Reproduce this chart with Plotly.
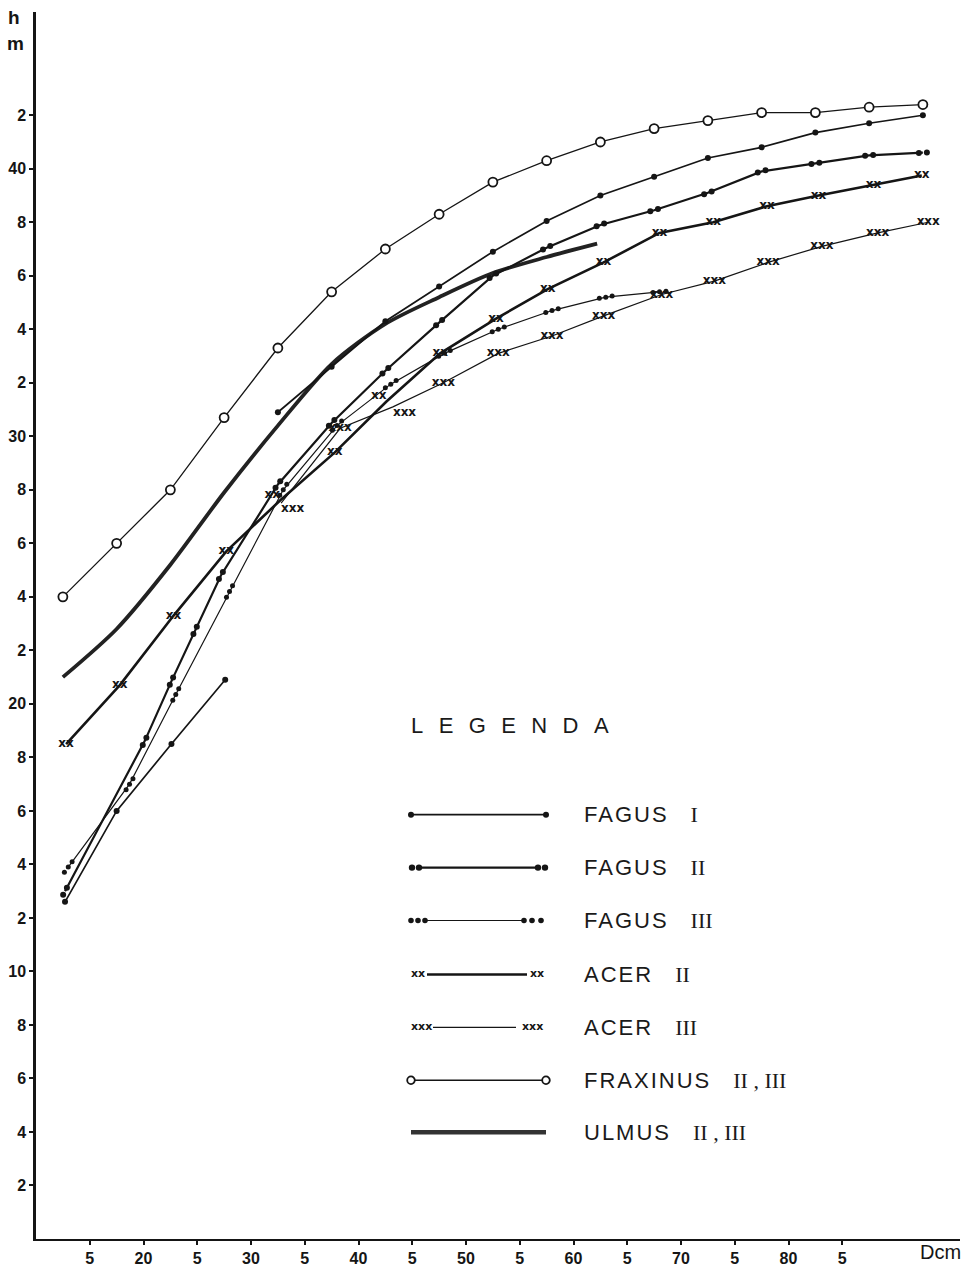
import math
import plotly.graph_objects as go

# ---------------- data ----------------
fraxinus_d = [12.5, 17.5, 22.5, 27.5, 32.5, 37.5, 42.5, 47.5, 52.5, 57.5, 62.5, 67.5, 72.5, 77.5, 82.5, 87.5, 92.5]
fraxinus_h = [24.0, 26.0, 28.0, 30.7, 33.3, 35.4, 37.0, 38.3, 39.5, 40.3, 41.0, 41.5, 41.8, 42.1, 42.1, 42.3, 42.4]

fagus1_d = [32.5, 37.5, 42.5, 47.5, 52.5, 57.5, 62.5, 67.5, 72.5, 77.5, 82.5, 87.5, 92.5]
fagus1_h = [30.9, 32.6, 34.3, 35.6, 36.9, 38.05, 39.0, 39.7, 40.4, 40.8, 41.35, 41.7, 42.0]
fagus1_low_d = [12.7, 17.5, 22.6, 27.6]
fagus1_low_h = [12.6, 16.0, 18.5, 20.9]

fagus2_d = [12.7, 20.1, 22.6, 24.8, 27.2, 32.5, 37.5, 42.5, 47.5, 52.5, 57.5, 62.5, 67.5, 72.5, 77.5, 82.5, 87.5, 92.5]
fagus2_h = [13.0, 18.6, 20.85, 22.75, 24.8, 28.2, 30.5, 32.45, 34.25, 36.0, 37.05, 37.9, 38.45, 39.1, 39.9, 40.2, 40.5, 40.6]

fagus3_d = [13.0, 18.7, 23.0, 28.0, 33.0, 38.0, 43.0, 48.0, 53.0, 58.0, 63.0, 68.0]
fagus3_h = [13.9, 17.0, 20.35, 24.2, 28.0, 30.4, 31.95, 33.1, 34.0, 34.7, 35.2, 35.4]

acer2_d = [12.8, 17.8, 22.8, 27.7, 32.7, 37.8, 42.6, 47.6, 52.8, 57.6, 62.8, 68.0, 73.0, 78.0, 82.8, 87.9, 92.4]
acer2_h = [18.5, 20.7, 23.3, 25.7, 27.6, 29.4, 31.3, 33.1, 34.4, 35.5, 36.5, 37.6, 38.0, 38.6, 39.0, 39.4, 39.75]

acer3_d = [32.8, 38.3, 43.2, 47.9, 53.0, 58.0, 62.8, 68.2, 73.1, 78.1, 83.1, 88.3, 93.0]
acer3_h = [27.5, 30.3, 31.1, 32.0, 33.1, 33.75, 34.5, 35.3, 35.8, 36.5, 37.1, 37.6, 38.0]

ulmus_d = [12.5, 17.5, 22.5, 27.5, 32.5, 37.5, 42.5, 47.5, 52.5, 57.5, 62.2]
ulmus_h = [21.0, 22.8, 25.2, 27.9, 30.4, 32.7, 34.2, 35.2, 36.1, 36.7, 37.2]

y_tickvals = list(range(2, 43, 2))
y_ticktext = ["2", "4", "6", "8", "10", "2", "4", "6", "8", "20", "2", "4", "6", "8",
              "30", "2", "4", "6", "8", "40", "2"]
x_tickvals = list(range(15, 86, 5))
x_ticktext = ["5", "20", "5", "30", "5", "40", "5", "50", "5", "60", "5", "70", "5", "80", "5"]

legend_title = "LEGENDA"
legend_labels = ["FAGUS", "FAGUS", "FAGUS", "ACER", "ACER", "FRAXINUS", "ULMUS"]
legend_roman = ["I", "II", "III", "II", "III", "II , III", "II , III"]

# ---------------- geometry ----------------
W, H = 965, 1272
ML, MR, MT, MB = 36, 5, 12, 31
PW, PH = W - ML - MR, H - MT - MB
X0, X1 = 10.0, 10.0 + PW / 10.75
Y0, Y1 = 0.0, PH / 26.8
SX = PW / (X1 - X0)
SY = PH / (Y1 - Y0)

INK = "#151515"
FONT = "Liberation Sans"


def multi_dots(d, h, k, gap):
    """k dots per data point, spaced `gap` px along the local line direction."""
    xs, ys = [], []
    n = len(d)
    for i in range(n):
        i0, i1 = max(i - 1, 0), min(i + 1, n - 1)
        dx = (d[i1] - d[i0]) * SX
        dy = (h[i1] - h[i0]) * SY
        L = math.hypot(dx, dy) or 1.0
        ux, uy = dx / L, dy / L
        for j in range(k):
            t = (j - (k - 1) / 2) * gap
            xs.append(d[i] + t * ux / SX)
            ys.append(h[i] + t * uy / SY)
    return xs, ys


def crowded_positions(d, h, od, oh, where, min_px=14):
    """Nudge a mark label off a neighbouring series' mark when the two coincide."""
    pos = []
    for x, y in zip(d, h):
        near = any(math.hypot((x - a) * SX, (y - b) * SY) < min_px for a, b in zip(od, oh))
        pos.append(where if near else "middle center")
    return pos


fig = go.Figure()

# Ulmus (thick, smooth, no markers)
fig.add_trace(go.Scatter(x=ulmus_d, y=ulmus_h, mode="lines",
                         line=dict(color="#222", width=3.8, shape="spline", smoothing=0.8),
                         hoverinfo="skip"))

# Fraxinus (thin line, open circles)
fig.add_trace(go.Scatter(x=fraxinus_d, y=fraxinus_h, mode="lines+markers",
                         line=dict(color=INK, width=1.3),
                         marker=dict(symbol="circle", size=9, color="white",
                                     line=dict(color=INK, width=1.8))))

# Fagus I (single dots)
for dd, hh in ((fagus1_d, fagus1_h), (fagus1_low_d, fagus1_low_h)):
    fig.add_trace(go.Scatter(x=dd, y=hh, mode="lines+markers",
                             line=dict(color=INK, width=1.7),
                             marker=dict(symbol="circle", size=6, color=INK)))

# Fagus II (double dots, heavier line)
fig.add_trace(go.Scatter(x=fagus2_d, y=fagus2_h, mode="lines",
                         line=dict(color=INK, width=2.2)))
mx, my = multi_dots(fagus2_d, fagus2_h, 2, 8)
fig.add_trace(go.Scatter(x=mx, y=my, mode="markers",
                         marker=dict(symbol="circle", size=6, color=INK)))

# Fagus III (triple dots, thin line)
fig.add_trace(go.Scatter(x=fagus3_d, y=fagus3_h, mode="lines",
                         line=dict(color=INK, width=1.2)))
mx, my = multi_dots(fagus3_d, fagus3_h, 3, 6.5)
fig.add_trace(go.Scatter(x=mx, y=my, mode="markers",
                         marker=dict(symbol="circle", size=5, color=INK)))

XFONT = dict(family="DejaVu Sans", size=12, color=INK, weight="bold")

# Acer II (thick line, "xx")
fig.add_trace(go.Scatter(x=acer2_d, y=acer2_h, mode="lines+text",
                         text=["xx"] * len(acer2_d),
                         textposition=crowded_positions(acer2_d, acer2_h, acer3_d, acer3_h, "top left"),
                         textfont=XFONT, line=dict(color=INK, width=2.6)))

# Acer III (thin line, "xxx")
fig.add_trace(go.Scatter(x=acer3_d, y=acer3_h, mode="lines+text",
                         text=["xxx"] * len(acer3_d),
                         textposition=crowded_positions(acer3_d, acer3_h, acer2_d, acer2_h, "bottom right"),
                         textfont=XFONT, line=dict(color=INK, width=1.2)))


# ---------------- custom legend (paper coordinates) ----------------
def XP(px):
    return (px - ML) / PW


def YP(py):
    return (H - MB - py) / PH


shapes = []
annos = []


def hline(x0, x1, y, w, color=INK):
    shapes.append(dict(type="line", xref="paper", yref="paper",
                       x0=XP(x0), x1=XP(x1), y0=YP(y), y1=YP(y),
                       line=dict(color=color, width=w)))


def dot(cx, cy, r, fill=INK, lw=0):
    shapes.append(dict(type="circle", xref="paper", yref="paper",
                       x0=XP(cx - r), x1=XP(cx + r), y0=YP(cy + r), y1=YP(cy - r),
                       fillcolor=fill, line=dict(color=INK, width=lw)))


def xmark(cx, cy, s):
    annos.append(dict(xref="paper", yref="paper", x=XP(cx), y=YP(cy), text=s,
                      showarrow=False, xanchor="center", yanchor="middle",
                      font=dict(family="DejaVu Sans", size=11, color=INK, weight="bold")))


rows = [816, 869, 922, 976, 1029, 1082, 1134]
LX0, LX1 = 411, 546

# Fagus I
hline(LX0, LX1, rows[0], 1.8)
dot(LX0, rows[0], 3)
dot(LX1, rows[0], 3)
# Fagus II
hline(418, 539, rows[1], 2.2)
for cx in (412, 419, 538, 545):
    dot(cx, rows[1], 3.2)
# Fagus III
hline(425, 524, rows[2], 1.2)
for cx in (411, 418, 425, 524, 532, 541):
    dot(cx, rows[2], 2.8)
# Acer II
hline(427, 527, rows[3], 2.6)
xmark(418, rows[3] - 1, "xx")
xmark(537, rows[3] - 1, "xx")
# Acer III
hline(433, 516, rows[4], 1.2)
xmark(421, rows[4] - 1, "xxx")
xmark(532, rows[4] - 1, "xxx")
# Fraxinus
hline(415, 542, rows[5], 1.3)
dot(411, rows[5], 3.8, fill="white", lw=1.8)
dot(546, rows[5], 3.8, fill="white", lw=1.8)
# Ulmus
hline(LX0, LX1, rows[6], 4.5, color="#333")

SP = "\u2002\u2009"
annos.append(dict(xref="paper", yref="paper", x=XP(409), y=YP(727),
                  text=SP.join(list(legend_title)), showarrow=False,
                  xanchor="left", yanchor="middle",
                  font=dict(family=FONT, size=22, color="#1a1a1a")))
for r, lab, rom in zip(rows, legend_labels, legend_roman):
    annos.append(dict(xref="paper", yref="paper", x=XP(582), y=YP(r),
                      text="<span style='letter-spacing:2px'>" + lab + "</span>\u2003"
                           "<span style='font-family:Liberation Serif'>" + rom + "</span>",
                      showarrow=False, xanchor="left", yanchor="middle",
                      font=dict(family=FONT, size=22, color="#1a1a1a")))

# axis captions
annos.append(dict(xref="paper", yref="paper", x=XP(14), y=YP(18), text="<b>h</b>",
                  showarrow=False, xanchor="center", yanchor="middle",
                  font=dict(family=FONT, size=19, color=INK)))
annos.append(dict(xref="paper", yref="paper", x=XP(15), y=YP(44), text="<b>m</b>",
                  showarrow=False, xanchor="center", yanchor="middle",
                  font=dict(family=FONT, size=19, color=INK)))
annos.append(dict(xref="paper", yref="paper", x=XP(940), y=YP(1254), text="Dcm",
                  showarrow=False, xanchor="center", yanchor="middle",
                  font=dict(family=FONT, size=20, color=INK)))

fig.update_layout(
    width=W, height=H,
    margin=dict(l=ML, r=MR, t=MT, b=MB),
    paper_bgcolor="white", plot_bgcolor="white",
    showlegend=False,
    shapes=shapes, annotations=annos,
    xaxis=dict(range=[X0, X1], tickvals=x_tickvals, ticktext=x_ticktext,
               showgrid=False, zeroline=False, showline=True, linecolor=INK, linewidth=2,
               ticks="outside", ticklen=4, tickwidth=2, tickcolor=INK,
               tickfont=dict(family=FONT, size=16, color=INK, weight="bold")),
    yaxis=dict(range=[Y0, Y1], tickvals=y_tickvals, ticktext=y_ticktext,
               showgrid=False, zeroline=False, showline=True, linecolor=INK, linewidth=2.5,
               ticks="outside", ticklen=4, tickwidth=2, tickcolor=INK,
               tickfont=dict(family=FONT, size=16, color=INK, weight="bold")),
)

fig.write_html("out.html")
